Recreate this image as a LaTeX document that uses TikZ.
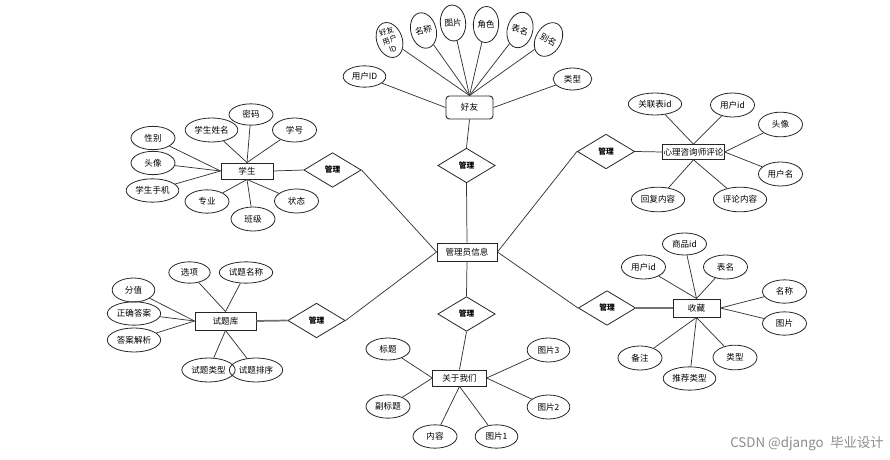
\documentclass[tikz,border=0pt]{standalone}
\usepackage{fontspec}
\setmainfont{Noto Sans CJK SC}
\usetikzlibrary{shapes.geometric}
\begin{document}
\begin{tikzpicture}[x=0.75pt,y=-0.75pt,
  every node/.style={font=\fontsize{6.4}{7.2}\selectfont, inner sep=0pt, text=black},
  attr/.style={ellipse, draw=black!85, line width=0.6pt, minimum width=33pt, minimum height=17.5pt},
  wattr/.style={attr, minimum width=40pt, minimum height=18pt},
  fan/.style={attr, minimum width=19pt, minimum height=27pt, font=\fontsize{6.4}{7.2}\selectfont},
  ent/.style={rectangle, draw=black!85, line width=0.7pt},
  rel/.style={diamond, draw=black!85, line width=0.6pt, minimum width=43pt, minimum height=26pt, font=\fontsize{5.8}{6.5}\selectfont\bfseries},
  ln/.style={draw=black!80, line width=0.55pt},
  tln/.style={draw=black!55, line width=1.3pt}
]
\useasboundingbox (0,0) rectangle (890,460);

% ---- 好友 ----
\node[ent, rounded corners=2.5pt, minimum width=35.25pt, minimum height=17.25pt] (hy) at (469.5,107.5) {好友};
\node[fan, rotate=20, align=center, font=\fontsize{5.6}{7}\selectfont] (f1) at (389.5,40) {好友\\用户\\ID};
\node[fan, rotate=15] (f2) at (423.5,30.5) {名称};
\node[fan, rotate=5] (f3) at (453,23) {图片};
\node[fan, rotate=-3] (f4) at (486,24.5) {角色};
\node[fan, rotate=-15] (f5) at (520,30) {表名};
\node[fan, rotate=-30] (f6) at (548.5,39.5) {别名};
\node[attr, minimum width=32pt, minimum height=16pt] (hyid) at (364.5,76.5) {用户ID};
\node[attr, minimum width=29pt, minimum height=16.5pt] (hylx) at (572.5,79) {类型};
\foreach \n in {f1,f2,f3,f4,f5,f6} \draw[ln] (\n) -- (hy.north);
\draw[ln] (hyid) -- (hy.west);
\draw[ln] (hylx) -- (hy.east);

% ---- 管理员信息 ----
\node[ent, minimum width=45pt, minimum height=13.5pt] (adm) at (467,252) {管理员信息};
\node[rel] (g1) at (466.5,165.5) {管理};
\draw[ln] (hy.south) -- (g1.north);
\draw[ln] (g1.south) -- (adm.north);

% ---- 学生 ----
\node[ent, minimum width=39pt, minimum height=12pt] (xs) at (247,171) {学生};
\node[rel] (g2) at (332.5,170) {管理};
\draw[ln] (xs.east) -- (g2.west);
\draw[ln] (g2.east) -- (adm.west);
\node[attr] (xb) at (153,138) {性别};
\node[attr] (tx) at (153,163) {头像};
\node[wattr, minimum width=39.5pt, minimum height=17.5pt] (sj) at (152.5,190.5) {学生手机};
\node[wattr, minimum width=39.5pt] (xm) at (211.5,130) {学生姓名};
\node[attr, minimum height=16pt] (mm) at (251,114.5) {密码};
\node[attr, minimum height=18pt] (xh) at (294.5,130) {学号};
\node[attr] (zy) at (207,201.5) {专业};
\node[attr, minimum height=18pt] (bj) at (253,219) {班级};
\node[attr, minimum height=18pt] (zt) at (296.5,201) {状态};
\foreach \n in {xb,tx,sj} \draw[ln] (\n) -- (xs.west);
\foreach \n in {xm,mm,xh} \draw[ln] (\n) -- (xs.north);
\foreach \n in {zy,bj,zt} \draw[ln] (\n) -- (xs.south);

% ---- 心理咨询师评论 ----
\node[ent, minimum width=46pt, minimum height=11pt] (xl) at (693.5,152) {心理咨询师评论};
\node[rel] (g3) at (606,151.5) {管理};
\draw[ln] (g3.east) -- (xl.west);
\draw[ln] (g3.west) -- (adm.east);
\node[wattr, minimum height=16.5pt] (glb) at (655,104) {关联表id};
\node[attr, minimum height=18pt] (xyid) at (732.5,105) {用户id};
\node[attr, minimum height=18.5pt] (xtx) at (780.5,124.5) {头像};
\node[attr, minimum height=18pt] (xyhm) at (780.5,174) {用户名};
\node[wattr, minimum height=18.5pt] (hf) at (658,199.5) {回复内容};
\node[wattr, minimum height=18.5pt] (pl) at (740,199.5) {评论内容};
\foreach \n in {glb,xyid} \draw[ln] (\n) -- (xl.north);
\foreach \n in {xtx,xyhm} \draw[ln] (\n) -- (xl.east);
\foreach \n in {hf,pl} \draw[ln] (\n) -- (xl.south);

% ---- 试题库 ----
\node[ent, minimum width=45.75pt, minimum height=13.5pt] (tk) at (225.5,321) {试题库};
\node[rel] (g4) at (316.5,320.5) {管理};
\draw[tln] (tk.east) -- (g4.west);
\draw[ln] (g4.east) -- (adm.west);
\node[attr, minimum width=31pt, minimum height=16pt] (xx) at (189.5,272.5) {选项};
\node[wattr, minimum height=16pt] (stmc) at (246,272.5) {试题名称};
\node[attr, minimum width=32pt, minimum height=18pt] (fz) at (133.5,290) {分值};
\node[wattr, minimum height=17.5pt] (zqda) at (134,313.5) {正确答案};
\node[wattr] (dajx) at (134,340) {答案解析};
\node[wattr] (stlx) at (208.5,370) {试题类型};
\node[wattr] (stpx) at (256,370) {试题排序};
\foreach \n in {xx,stmc} \draw[ln] (\n) -- (tk.north);
\foreach \n in {fz,zqda,dajx} \draw[ln] (\n) -- (tk.west);
\foreach \n in {stlx,stpx} \draw[ln] (\n) -- (tk.south);

% ---- 收藏 ----
\node[ent, minimum width=35.25pt, minimum height=13.5pt] (sc) at (696.5,308) {收藏};
\node[rel] (g5) at (607,308) {管理};
\draw[tln] (g5.east) -- (sc.west);
\draw[ln] (g5.west) -- (adm.east);
\node[attr, minimum height=16.5pt] (spid) at (684.5,244) {商品id};
\node[attr, minimum height=18pt] (scyid) at (643.5,267) {用户id};
\node[attr, minimum height=18pt] (scbm) at (725.5,267) {表名};
\node[attr] (scmc) at (784.5,291.5) {名称};
\node[attr] (sctp) at (784.5,323.5) {图片};
\node[attr, minimum height=18pt] (bz) at (640,358) {备注};
\node[wattr, minimum width=39.5pt, minimum height=17.5pt] (tjlx) at (689.5,378.5) {推荐类型};
\node[attr, minimum height=18.5pt] (sclx) at (735,357.5) {类型};
\foreach \n in {spid,scyid,scbm} \draw[ln] (\n) -- (sc.north);
\foreach \n in {scmc,sctp} \draw[ln] (\n) -- (sc.east);
\foreach \n in {bz,tjlx,sclx} \draw[ln] (\n) -- (sc.south);

% ---- 关于我们 ----
\node[ent, minimum width=40pt, minimum height=12pt] (gy) at (459.5,378) {关于我们};
\node[rel] (g6) at (466.5,314) {管理};
\draw[ln] (adm.south) -- (g6.north);
\draw[ln] (g6.south) -- (gy.north);
\node[attr, minimum height=16.5pt] (bt) at (388,349) {标题};
\node[attr] (fbt) at (388,406.5) {副标题};
\node[attr] (nr) at (435,436.5) {内容};
\node[attr, minimum width=32pt] (tp1) at (496.5,436.5) {图片1};
\node[attr, minimum width=32pt, minimum height=18pt] (tp3) at (548.5,350) {图片3};
\node[attr, minimum width=32pt, minimum height=18pt] (tp2) at (548.5,407) {图片2};
\foreach \n in {bt,fbt} \draw[ln] (\n) -- (gy.west);
\foreach \n in {nr,tp1} \draw[ln] (\n) -- (gy.south);
\foreach \n in {tp3,tp2} \draw[ln] (\n) -- (gy.east);

% ---- watermark ----
\node[anchor=east, text=black!45, font=\fontsize{10}{12}\selectfont] (wm) at (884,444) {CSDN @django\enspace 毕业设计};
\end{tikzpicture}
\end{document}
